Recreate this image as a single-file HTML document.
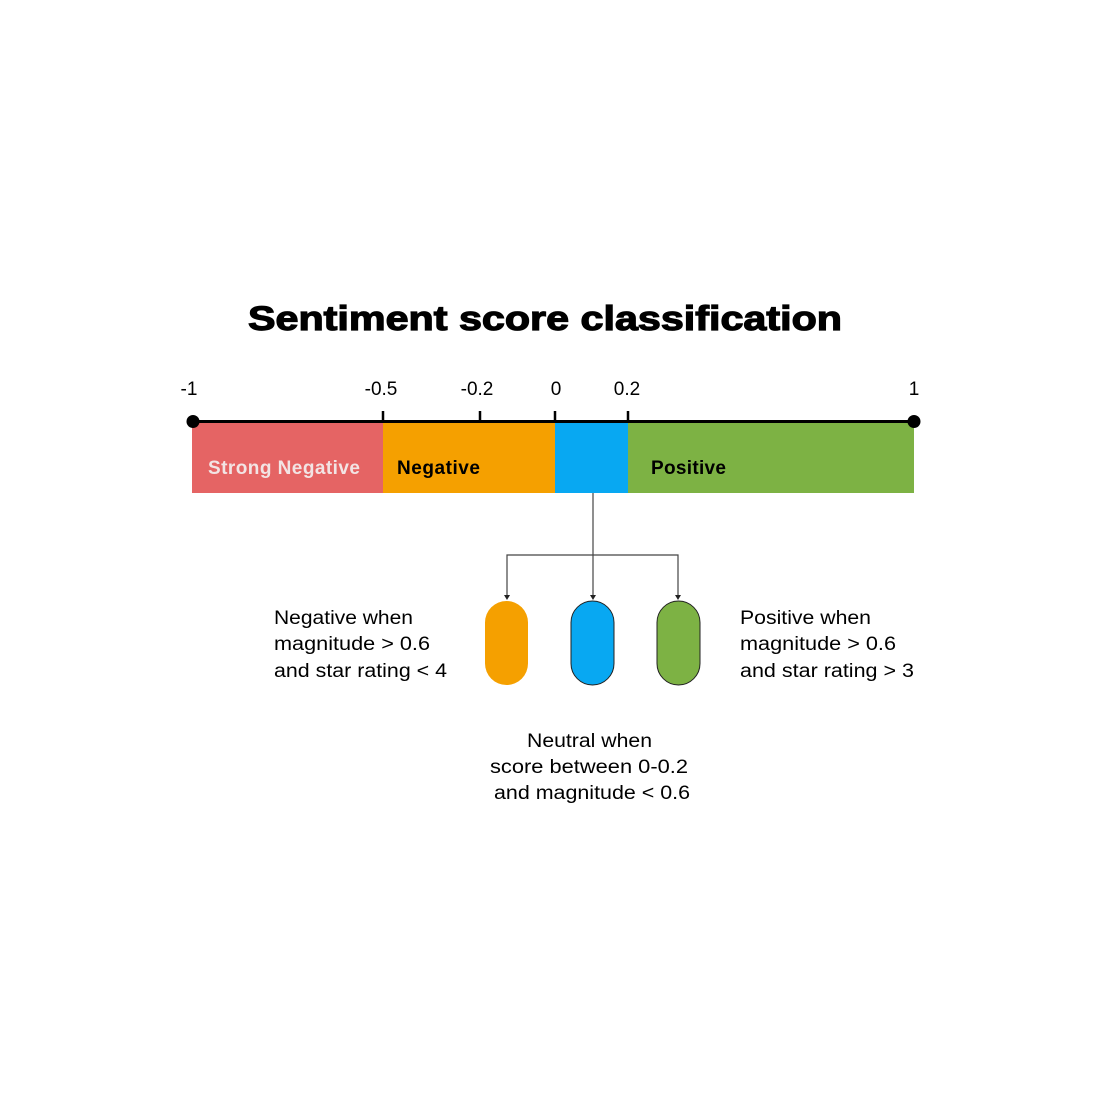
<!DOCTYPE html>
<html><head><meta charset="utf-8"><style>
html,body{margin:0;padding:0;background:#fff;}
svg{display:block;font-family:"Liberation Sans",Arial,sans-serif;}
</style></head><body>
<svg width="1100" height="1100" viewBox="0 0 1100 1100" xmlns="http://www.w3.org/2000/svg">
<rect width="1100" height="1100" fill="#fff"/>
<text x="248" y="330" font-size="34" font-weight="900" textLength="594" lengthAdjust="spacingAndGlyphs" stroke="#000" stroke-width="1.2">Sentiment score classification</text>
<g font-size="19" fill="#000">
<text x="189" y="395" text-anchor="middle">-1</text>
<text x="381" y="395" text-anchor="middle">-0.5</text>
<text x="477" y="395" text-anchor="middle">-0.2</text>
<text x="556" y="395" text-anchor="middle">0</text>
<text x="627" y="395" text-anchor="middle">0.2</text>
<text x="914" y="395" text-anchor="middle">1</text>
</g>
<rect x="192" y="423" width="191" height="70" fill="#e56464"/>
<rect x="383" y="423" width="172" height="70" fill="#f5a000"/>
<rect x="555" y="423" width="73" height="70" fill="#08a8f2"/>
<rect x="628" y="423" width="286" height="70" fill="#7db244"/>
<line x1="192" y1="421.5" x2="914" y2="421.5" stroke="#000" stroke-width="3"/>
<g stroke="#000" stroke-width="2.5">
<line x1="383" y1="411" x2="383" y2="421"/>
<line x1="480" y1="411" x2="480" y2="421"/>
<line x1="555" y1="411" x2="555" y2="421"/>
<line x1="628" y1="411" x2="628" y2="421"/>
</g>
<circle cx="193" cy="421.5" r="6.5" fill="#000"/>
<circle cx="914" cy="421.5" r="6.5" fill="#000"/>
<g font-size="19" font-weight="bold" lengthAdjust="spacingAndGlyphs">
<text x="208" y="474" fill="#f2e4e4" textLength="152">Strong Negative</text>
<text x="397" y="474" fill="#000" textLength="83">Negative</text>
<text x="651" y="474" fill="#000" textLength="75">Positive</text>
</g>
<g stroke="#444" stroke-width="1.2" fill="none">
<line x1="593" y1="493" x2="593" y2="596"/>
<polyline points="507,596 507,555 678,555 678,596"/>
</g>
<g fill="#222">
<polygon points="504,595 510,595 507,600"/>
<polygon points="590,595 596,595 593,600"/>
<polygon points="675,595 681,595 678,600"/>
</g>
<rect x="485" y="601" width="43" height="84" rx="21.5" fill="#f5a000"/>
<rect x="571" y="601" width="43" height="84" rx="21.5" fill="#08a8f2" stroke="#222" stroke-width="1"/>
<rect x="657" y="601" width="43" height="84" rx="21.5" fill="#7db244" stroke="#222" stroke-width="1"/>
<g font-size="19" fill="#000">
<text x="274" y="624" textLength="139" lengthAdjust="spacingAndGlyphs">Negative when</text>
<text x="274" y="650" textLength="156" lengthAdjust="spacingAndGlyphs">magnitude &gt; 0.6</text>
<text x="274" y="677" textLength="173" lengthAdjust="spacingAndGlyphs">and star rating &lt; 4</text>
<text x="740" y="624" textLength="131" lengthAdjust="spacingAndGlyphs">Positive when</text>
<text x="740" y="650" textLength="156" lengthAdjust="spacingAndGlyphs">magnitude &gt; 0.6</text>
<text x="740" y="677" textLength="174" lengthAdjust="spacingAndGlyphs">and star rating &gt; 3</text>
<text x="527" y="747" textLength="125" lengthAdjust="spacingAndGlyphs">Neutral when</text>
<text x="490" y="773" textLength="198" lengthAdjust="spacingAndGlyphs">score between 0-0.2</text>
<text x="494" y="799" textLength="196" lengthAdjust="spacingAndGlyphs">and magnitude &lt; 0.6</text>
</g>
</svg>
</body></html>
